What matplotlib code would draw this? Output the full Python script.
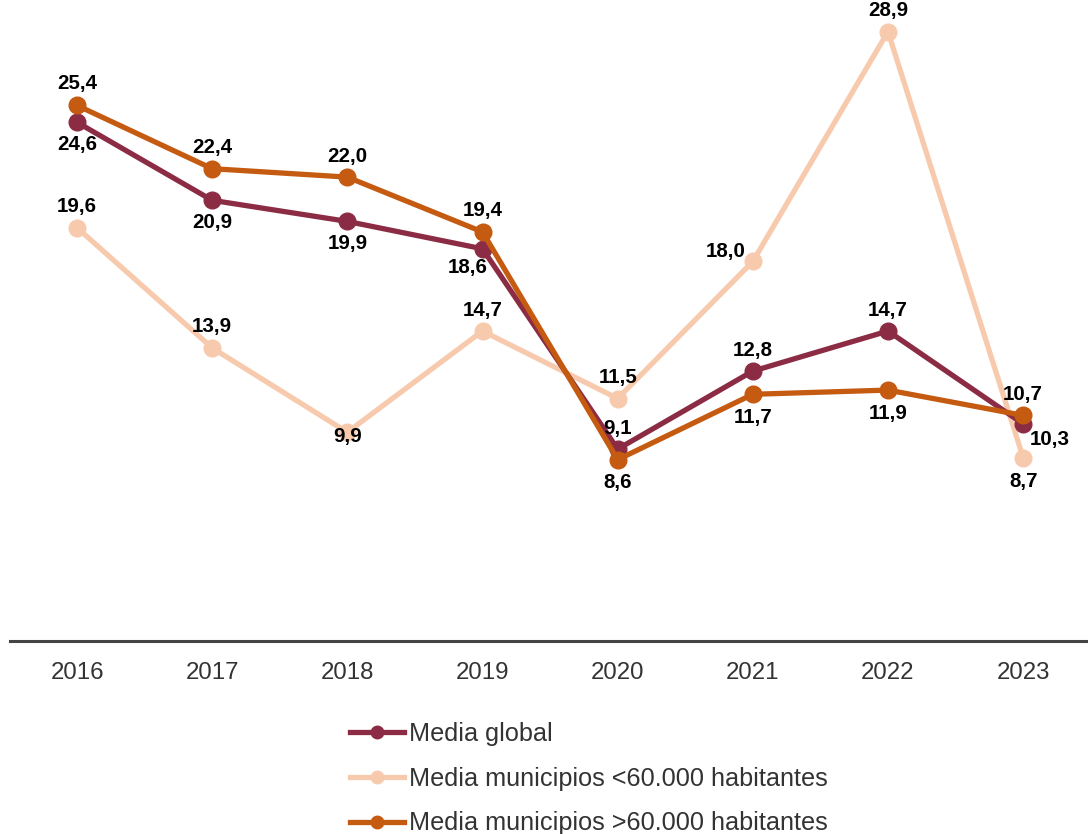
import matplotlib.pyplot as plt
import numpy as np

plt.rcParams['font.family'] = ['Liberation Sans', 'DejaVu Sans']

years = ['2016', '2017', '2018', '2019', '2020', '2021', '2022', '2023']
global_avg = [24.6, 20.9, 19.9, 18.6, 9.1, 12.8, 14.7, 10.3]
small_mun = [19.6, 13.9, 9.9, 14.7, 11.5, 18.0, 28.9, 8.7]
large_mun = [25.4, 22.4, 22.0, 19.4, 8.6, 11.7, 11.9, 10.7]

# label offsets (px) per point
off_global = [(0, -22), (0, -22), (0, -22), (-15, -19), (0, 21), (0, 21), (0, 21), (27, -16)]
off_small = [(0, 21), (0, 21), (0, -4), (0, 21), (0, 21), (-27, 10), (0, 21), (0, -24)]
off_large = [(0, 22), (0, 21), (0, 21), (0, 21), (0, -23), (0, -23), (0, -23), (0, 21)]

c_global = '#8b2c44'
c_small = '#f8caad'
c_large = '#c55a11'

fig = plt.figure(figsize=(10.88, 8.34), dpi=100)
ax = fig.add_axes([10 / 1088, 193 / 834, 1 - 10 / 1088, 641 / 834])

x = np.arange(len(years))
lw = 3.8
ms = 12
ax.plot(x, small_mun, color=c_small, lw=lw, marker='o', ms=ms, label='Media municipios <60.000 habitantes', zorder=2)
ax.plot(x, global_avg, color=c_global, lw=lw, marker='o', ms=ms, label='Media global', zorder=3)
ax.plot(x, large_mun, color=c_large, lw=lw, marker='o', ms=ms, label='Media municipios >60.000 habitantes', zorder=4)

for vals, offs in [(small_mun, off_small), (global_avg, off_global), (large_mun, off_large)]:
    for i, v in enumerate(vals):
        dx, dy = offs[i]
        ax.annotate(f'{v:.1f}'.replace('.', ','), (i, v), xytext=(dx * 0.72, dy * 0.72),
                    textcoords='offset points', ha='center', va='center',
                    fontsize=14.8, fontweight='bold', color='black', zorder=5)

ax.set_xlim(-0.496, 7.48)
ax.set_ylim(0, 30.4)
ax.set_xticks(x)
ax.set_xticklabels(years, fontsize=17.3, color='#333333')
ax.tick_params(axis='x', length=0, pad=15)
ax.set_yticks([])
for s in ['top', 'right', 'left']:
    ax.spines[s].set_visible(False)
ax.spines['bottom'].set_color('#444444')
ax.spines['bottom'].set_linewidth(2.2)
ax.patch.set_alpha(0)

h, l = ax.get_legend_handles_labels()
order = [1, 0, 2]
fig.legend([h[i] for i in order], [l[i] for i in order], loc='upper left',
           bbox_to_anchor=(350 / 1088, 1 - 722 / 834), frameon=False,
           fontsize=18.2, labelcolor='#333333', handlelength=2.15, handletextpad=0.2,
           labelspacing=0.82, borderpad=0, borderaxespad=0, markerscale=0.75)

fig.savefig('out.png', dpi=100)
